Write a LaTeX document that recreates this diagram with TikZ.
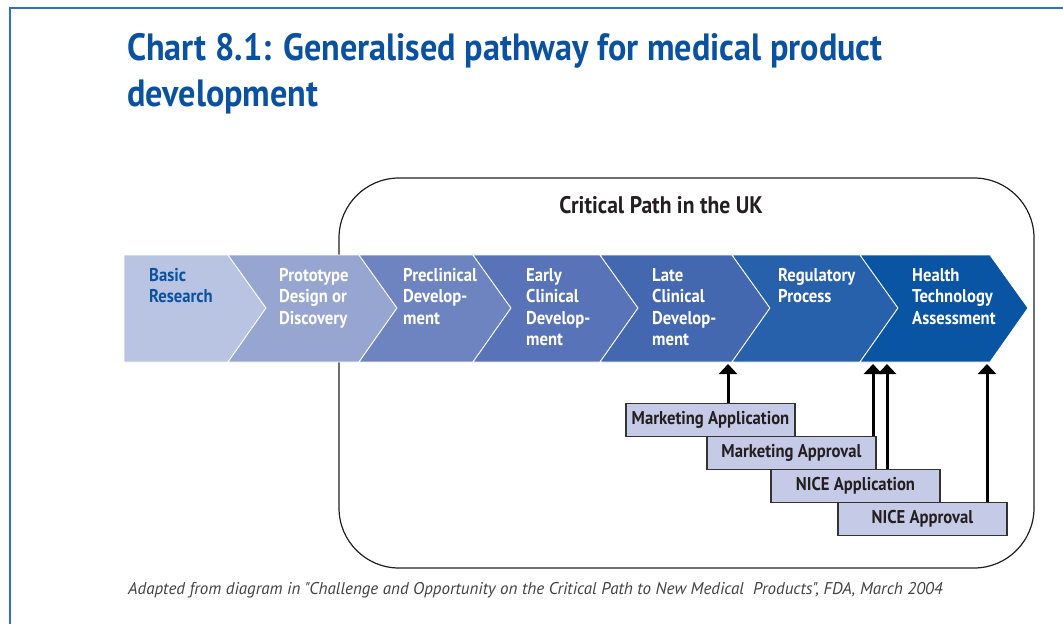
\documentclass[tikz,border=0pt]{standalone}
\usepackage{fontspec}
\setmainfont{PT Sans}[FakeStretch=0.9]
\newfontfamily\notefont{PT Sans}
\usetikzlibrary{arrows.meta}

\definecolor{frameblue}{HTML}{2B72C2}
\definecolor{titleblue}{HTML}{0A52A0}
\definecolor{darktext}{HTML}{231F20}
\definecolor{boxfill}{HTML}{C5CAE6}
\definecolor{boxline}{HTML}{333333}
\definecolor{chA}{HTML}{B9C3E2}
\definecolor{chB}{HTML}{97A5D1}
\definecolor{chC}{HTML}{6D84C1}
\definecolor{chD}{HTML}{5873B7}
\definecolor{chE}{HTML}{4368B0}
\definecolor{chF}{HTML}{2760AB}
\definecolor{chG}{HTML}{0A54A4}

\begin{document}
\begin{tikzpicture}[x=1pt,y=-1pt,
    steptext/.style={anchor=north west,align=left,inner sep=0pt,text=white,
      font=\fontsize{18.5}{21.5}\selectfont\bfseries},
    filing/.style={draw=boxline,line width=1.2pt,fill=boxfill,inner sep=0pt,
      minimum width=169pt,minimum height=33pt,text=darktext,
      font=\fontsize{18.5}{20}\selectfont\bfseries},
    uparrow/.style={line width=3pt,draw=black,-{Triangle[width=18pt,length=10pt]}}]

  \useasboundingbox (0,0) rectangle (1063,624);
  \draw[frameblue,line width=2.5pt] (10,624) -- (10,8) -- (1063,8);

  \node[anchor=north west,align=left,inner sep=0pt,text=titleblue,
    font=\fontsize{38}{46}\selectfont\bfseries] (title) at (127,33)
    {Chart 8.1: Generalised pathway for medical product\\development};

  \draw[darktext,line width=1.2pt,rounded corners=60pt] (339,178) rectangle (1034,568);
  \node[text=darktext,font=\fontsize{24}{27}\selectfont\bfseries] (critical) at (661,205)
    {Critical Path in the UK};

  \foreach \l/\r/\n/\col in {124/228/0/chA, 228/359/38/chB, 359/473/38/chC,
      473/600/38/chD, 600/732/38/chE, 732/860/38/chF, 860/990/38/chG}
    \filldraw[fill=\col,draw=white,line width=0.8pt]
      (\l,255) -- (\r,255) -- (\r+38,308) -- (\r,362) -- (\l,362) -- (\l+\n,308) -- cycle;

  \begin{scope}[every node/.style={steptext}]
    \node[text=titleblue] (basic) at (149,268) {Basic\\Research};
    \node (proto) at (279,268) {Prototype\\Design or\\Discovery};
    \node (precl) at (403,268) {Preclinical\\Develop-\\ment};
    \node (early) at (526,268) {Early\\Clinical\\Develop-\\ment};
    \node (late)  at (652,268) {Late\\Clinical\\Develop-\\ment};
    \node (regul) at (778,268) {Regulatory\\Process};
    \node (hta)   at (912,268) {Health\\Technology\\Assessment};
  \end{scope}

  \begin{scope}[every node/.style={filing}]
    \node (mapp)  at (710.5,420) {Marketing Application};
    \node (mappr) at (791.5,453) {Marketing Approval};
    \node (napp)  at (855.5,486) {NICE Application};
    \node (nappr) at (922.5,519) {NICE Approval};
  \end{scope}

  \coordinate (lateend)  at (728,364);
  \coordinate (regend)   at (873,364);
  \coordinate (htaend)   at (887,364);
  \coordinate (htaend2)  at (987,364);

  \draw[uparrow] (lateend |- mapp.north)  -- (lateend);
  \draw[uparrow] (regend  |- mappr.north) -- (regend);
  \draw[uparrow] (htaend  |- napp.north)  -- (htaend);
  \draw[uparrow] (htaend2 |- nappr.north) -- (htaend2);

  \node[anchor=west,inner sep=0pt,text=darktext!85,
    font=\notefont\itshape\fontsize{17}{20}\selectfont] (source) at (128,590)
    {Adapted from diagram in "Challenge and Opportunity on the Critical Path to New Medical\ \ Products", FDA, March 2004};
\end{tikzpicture}
\end{document}
